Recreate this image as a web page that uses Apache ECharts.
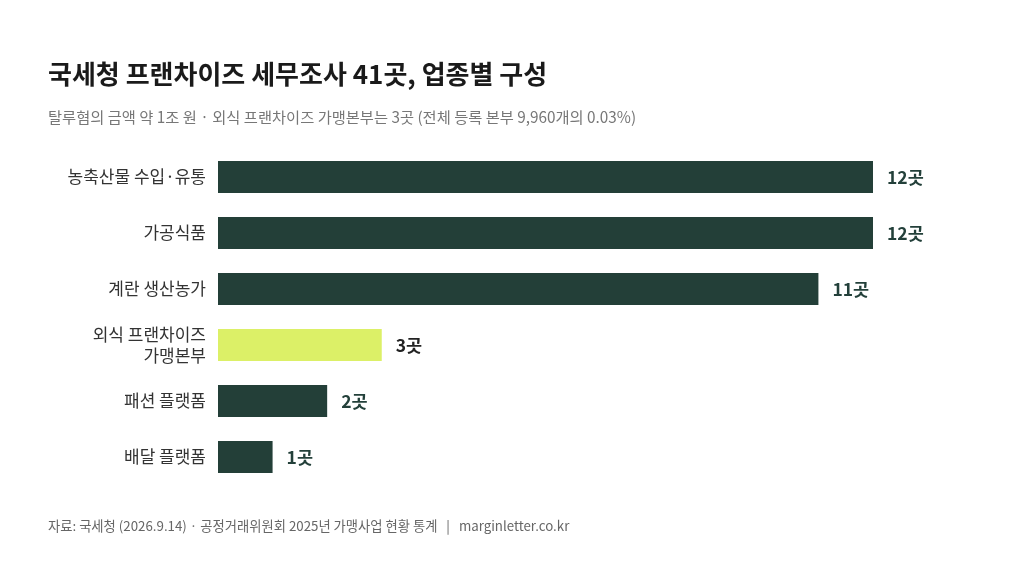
<!DOCTYPE html>
<html><head><meta charset="utf-8">
<script src="https://cdn.jsdelivr.net/npm/echarts@6/dist/echarts.min.js"></script>
<style>html,body{margin:0;padding:0;background:#fff}#c{width:1024px;height:561px}</style>
</head><body><div id="c"></div>
<script>
const categories = ['농축산물 수입·유통','가공식품','계란 생산농가','외식 프랜차이즈\n가맹본부','패션 플랫폼','배달 플랫폼'];
const values = [12, 12, 11, 3, 2, 1];
const highlight = [false, false, false, true, false, false];
const unit = '곳';
const FONT = '"Noto Sans CJK KR","Noto Sans",sans-serif';
const chart = echarts.init(document.getElementById('c'));
chart.setOption({
  backgroundColor:'#fff',
  animation:false,
  title:[
    {text:'국세청 프랜차이즈 세무조사 41곳, 업종별 구성', left:43, top:56,
     textStyle:{fontFamily:FONT, fontSize:26, fontWeight:'bold', color:'#1a1a1a'}},
    {text:'탈루혐의 금액 약 1조 원 · 외식 프랜차이즈 가맹본부는 3곳 (전체 등록 본부 9,960개의 0.03%)', left:43, top:105,
     textStyle:{fontFamily:FONT, fontSize:15.3, fontWeight:'normal', color:'#777'}},
    {text:'자료: 국세청 (2026.9.14) · 공정거래위원회 2025년 가맹사업 현황 통계   |   marginletter.co.kr', left:43, top:514,
     textStyle:{fontFamily:FONT, fontSize:13.3, fontWeight:'normal', color:'#666'}}
  ],
  grid:{left:218, right:151, top:149, bottom:561-485, containLabel:false},
  xAxis:{type:'value', min:0, max:12, show:false},
  yAxis:{type:'category', inverse:true, data:categories,
    axisLine:{show:false}, axisTick:{show:false},
    axisLabel:{fontFamily:FONT, fontSize:17, color:'#333', margin:12, lineHeight:21, align:'right'}},
  series:[{
    type:'bar', barWidth:32,
    data: values.map((v,i)=>({value:v,
      itemStyle:{color: highlight[i] ? '#dcf067' : '#233f38'},
      label:{color: highlight[i] ? '#222' : '#23403a'}})),
    label:{show:true, position:'right', distance:14, fontFamily:FONT, fontSize:17.5, fontWeight:'bold',
      formatter: p => p.value + unit}
  }]
});
</script></body></html>
